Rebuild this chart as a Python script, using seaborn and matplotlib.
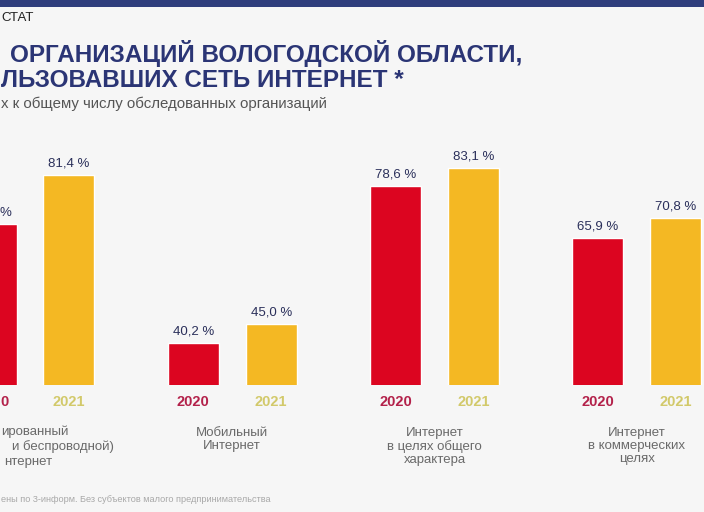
import pandas as pd
import matplotlib
matplotlib.use("Agg")
import matplotlib.pyplot as plt
from matplotlib.patches import Rectangle
import seaborn as sns

# данные (левый край исходной картинки обрезан)
categories = ["cat1", "Мобильный\nИнтернет",
              "Интернет\nв целях общего\nхарактера",
              "Интернет\nв коммерческих\nцелях"]
cat1_lines = ["ированный", "и беспроводной)", "нтернет"]   # видимые куски подписи 1-й группы
years = ["2020", "2021"]
values_2020 = [69.3, 40.2, 78.6, 65.9]
values_2021 = [81.4, 45.0, 83.1, 70.8]

df = pd.DataFrame({
    "cat": categories * 2,
    "year": [years[0]] * 4 + [years[1]] * 4,
    "val": values_2020 + values_2021,
})

bg = "#f6f6f6"
navy = "#2b3575"
bar_colors = ["#dc0520", "#f4b823"]
year_colors = ["#b3214a", "#d2c96a"]
grey = "#6a6a6a"

sns.set_theme(style="white")
plt.rcParams["font.family"] = ["Liberation Sans", "DejaVu Sans"]

W, H = 704, 512
fig = plt.figure(figsize=(7.04, 5.12), dpi=100, facecolor=bg)

# оси: базовая линия на 385px, верх на 130px
ax = fig.add_axes([0, 1 - 385 / H, 1, (385 - 130) / H])
ax.patch.set_visible(False)
sns.barplot(data=df, x="cat", y="val", hue="year", palette=bar_colors,
            width=0.77, gap=0.345, saturation=1, legend=False, ax=ax)
ax.set_xlim(-0.148, 3.332)
ax.set_ylim(30, 92.3)
sns.despine(ax=ax, left=True, bottom=True)
ax.set_yticks([])
ax.set_xlabel("")
ax.set_ylabel("")
ax.set_xticks(range(4), [""] + categories[1:])
ax.tick_params(axis="x", length=0, pad=30)
for lbl in ax.get_xticklabels():
    lbl.set_fontsize(9.5)
    lbl.set_color(grey)
    lbl.set_linespacing(1.15)

# подписи 1-й группы (обрезаны краем)
for txt, x0, y in zip(cat1_lines, [1, 12, 4], [432, 447, 462]):
    fig.text(x0 / W, 1 - y / H, txt, ha="left", va="center",
             fontsize=9.5, color=grey)

# подписи значений и годов
x_left = ax.get_xlim()[0]
for cont, yr, ycol in zip(ax.containers, years, year_colors):
    for bar in cont:
        x = bar.get_x() + bar.get_width() / 2
        h = bar.get_height()
        val_txt = f"{h:.1f} %".replace(".", ",")
        ha = "center"
        yr_txt = yr
        if x < x_left:      # столбец уходит за край — видна только часть подписи
            val_txt, yr_txt, ha, x = val_txt[-1:], yr[-1:], "left", x_left
        ax.annotate(val_txt, (x, h), xytext=(0, 4),
                    textcoords="offset points", ha=ha, va="bottom",
                    fontsize=9.5, color="#2a2f5a", annotation_clip=False)
        ax.annotate(yr_txt, (x, 30), xytext=(0, -12.5), textcoords="offset points",
                    ha=ha, va="center", fontsize=10.5, fontweight="bold",
                    color=ycol, annotation_clip=False)

# шапка
fig.add_artist(Rectangle((0, 1 - 7 / H), 1, 7 / H, transform=fig.transFigure,
                         facecolor="#2f3e7c", edgecolor="none"))
fig.text(1 / W, 1 - 18 / H, "СТАТ", ha="left", va="center",
         fontsize=9.5, color="#222222")
fig.text(522 / W, 1 - 62 / H, "ОРГАНИЗАЦИЙ ВОЛОГОДСКОЙ ОБЛАСТИ,",
         ha="right", va="baseline", fontsize=17.5, fontweight="bold", color=navy)
fig.text(1 / W, 1 - 87 / H, "ЛЬЗОВАВШИХ СЕТЬ ИНТЕРНЕТ *",
         ha="left", va="baseline", fontsize=17.5, fontweight="bold", color=navy)
fig.text(1 / W, 1 - 104 / H, "х к общему числу обследованных организаций",
         ha="left", va="center", fontsize=10.8, color="#555555")
fig.text(1 / W, 1 - 500 / H,
         "ены по 3-информ. Без субъектов малого предпринимательства",
         ha="left", va="center", fontsize=6.6, color="#a8a8a8")

fig.savefig("out.png", dpi=100, facecolor=bg)
